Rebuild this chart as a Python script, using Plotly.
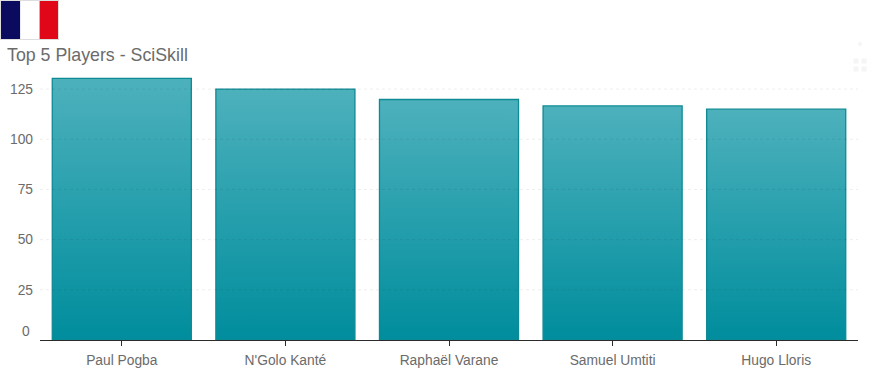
import plotly.graph_objects as go

players = ["Paul Pogba", "N'Golo Kanté", "Raphaël Varane", "Samuel Umtiti", "Hugo Lloris"]
sciskill = [130.3, 125, 119.8, 116.6, 115]
tick_values = [0, 25, 50, 75, 100, 125]
tick_labels = ["", "25", "50", "75", "100", "125"]
flag_colors = ["#0a0a5e", "#ffffff", "#e00818"]

W, H = 870, 386
L, R, T, B = 40, 12, 69, 46
GREY = "#6b6b6b"

def px_x(v):
    return (v - L) / (W - L - R)

def px_y(v):
    return 1 - (v - T) / (H - T - B)

shapes = []
# flag
for i, c in enumerate(flag_colors):
    shapes.append(dict(type="rect", xref="paper", yref="paper", layer="above",
                       x0=px_x(1 + i * 19.3), x1=px_x(1 + (i + 1) * 19.3),
                       y0=px_y(39.5), y1=px_y(0.5),
                       fillcolor=c, line=dict(width=0)))
shapes.append(dict(type="rect", xref="paper", yref="paper", layer="above",
                   x0=px_x(0.5), x1=px_x(58.5), y0=px_y(39.5), y1=px_y(0.5),
                   line=dict(color="#dddddd", width=1)))
# dotted grid drawn over the bars
for v in tick_values[1:]:
    shapes.append(dict(type="line", xref="paper", yref="y", layer="above",
                       x0=0, x1=1, y0=v, y1=v,
                       line=dict(color="rgba(0,0,0,0.07)", width=1, dash="dot")))
# faint toolbar glyphs at the top right
shapes.append(dict(type="circle", xref="paper", yref="paper", layer="above",
                   x0=px_x(858), x1=px_x(862), y0=px_y(46), y1=px_y(42),
                   fillcolor="#f5f5f5", line=dict(width=0)))
for cx, cy in [(856, 61), (864, 61), (856, 69), (864, 69)]:
    shapes.append(dict(type="rect", xref="paper", yref="paper", layer="above",
                       x0=px_x(cx - 2.5), x1=px_x(cx + 2.5), y0=px_y(cy + 2.5), y1=px_y(cy - 2.5),
                       fillcolor="#f5f5f5", line=dict(width=0)))

fig = go.Figure(go.Bar(
    x=players, y=sciskill, width=0.85,
    marker=dict(color="#25a0ad", line=dict(color="#0e8a94", width=1.3)),
    hoverinfo="x+y",
))

fig.update_layout(
    width=W, height=H, autosize=False,
    margin=dict(l=L, r=R, t=T, b=B),
    paper_bgcolor="white", plot_bgcolor="white",
    font=dict(family="Liberation Sans, Arial, sans-serif", size=14, color=GREY),
    showlegend=False,
    shapes=shapes,
    title=dict(text="Top 5 Players - SciSkill", x=7 / W, xanchor="left",
               y=1 - 55 / H, yanchor="middle",
               font=dict(size=17.8, color=GREY)),
    xaxis=dict(showline=True, linecolor="#2b2b2b", linewidth=1, automargin=False,
               ticks="outside", ticklen=5, tickcolor="#2b2b2b",
               ticklabelstandoff=2,
               tickfont=dict(size=13.8, color=GREY), showgrid=False),
    yaxis=dict(range=[0, 135], tickmode="array", tickvals=tick_values, ticktext=tick_labels,
               ticks="", showline=False, zeroline=False, showgrid=False, automargin=False,
               ticklabelstandoff=6,
               tickfont=dict(size=13.8, color=GREY)),
    annotations=[dict(text=str(tick_values[0]), xref="paper", yref="y", x=0, y=tick_values[0],
                      xanchor="right", xshift=-8, yanchor="middle", yshift=9,
                      showarrow=False, font=dict(size=13.8, color=GREY))],
)

post = """
document.body.style.margin = '0';
var gd = document.getElementById('{plot_id}');
var svg = gd.querySelector('svg.main-svg');
var ns = 'http://www.w3.org/2000/svg';
var defs = svg.querySelector('defs') || svg.appendChild(document.createElementNS(ns, 'defs'));
var g = document.createElementNS(ns, 'linearGradient');
g.setAttribute('id', 'barGrad');
g.setAttribute('x1', '0'); g.setAttribute('y1', '0');
g.setAttribute('x2', '0'); g.setAttribute('y2', '1');
[['0', '#4db1bc'], ['1', '#008d9d']].forEach(function (s) {
  var st = document.createElementNS(ns, 'stop');
  st.setAttribute('offset', s[0]); st.setAttribute('stop-color', s[1]);
  g.appendChild(st);
});
defs.appendChild(g);
gd.querySelectorAll('.bars .point path').forEach(function (p) {
  p.style.fill = 'url(#barGrad)';
  p.style.fillOpacity = 1;
});
"""

fig.write_html("out.html", config={"displayModeBar": False}, post_script=post)
